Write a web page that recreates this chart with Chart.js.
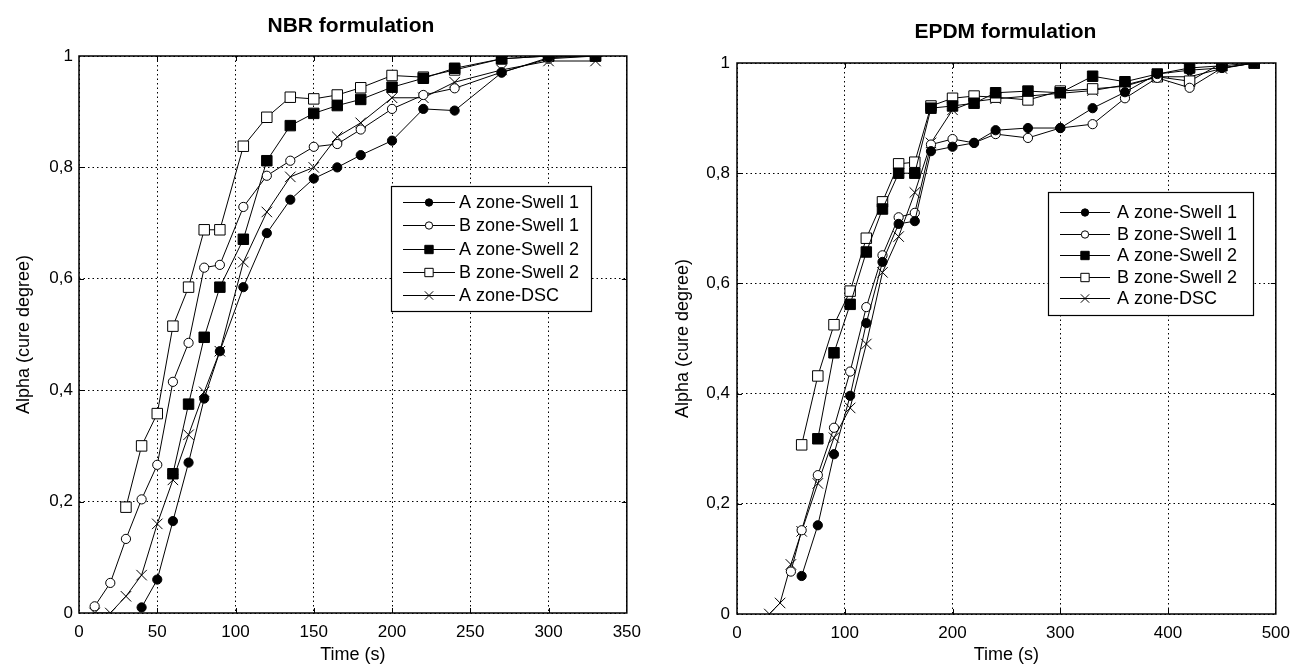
<!DOCTYPE html>
<html><head><meta charset="utf-8">
<script src="https://cdn.jsdelivr.net/npm/chart.js@4.4.0/dist/chart.umd.min.js"></script>
<style>
html,body{margin:0;padding:0;background:#fff;width:1299px;height:666px;overflow:hidden}
.box{position:absolute;top:0;height:666px}
#c1box{left:0;width:650px}
#c2box{left:650px;width:649px}
</style></head><body>
<div id="c1box" class="box"><canvas id="c1"></canvas></div>
<div id="c2box" class="box"><canvas id="c2"></canvas></div>
<script>
// ---------- NBR formulation ----------
const nbrA1x = [40,50,60,70,80,90,105,120,135,150,165,180,200,220,240,270,300,330];
const nbrA1y = [0.01,0.06,0.165,0.27,0.385,0.47,0.585,0.682,0.742,0.78,0.80,0.822,0.848,0.905,0.902,0.97,0.997,1.0];
const nbrB1x = [10,20,30,40,50,60,70,80,90,105,120,135,150,165,180,200,220,240,270,300,330];
const nbrB1y = [0.012,0.054,0.133,0.204,0.266,0.415,0.485,0.62,0.625,0.729,0.785,0.812,0.837,0.842,0.868,0.905,0.93,0.942,0.971,0.995,1.0];
const nbrA2x = [60,70,80,90,105,120,135,150,165,180,200,220,240,270,300,330];
const nbrA2y = [0.25,0.375,0.495,0.585,0.671,0.812,0.875,0.897,0.911,0.922,0.944,0.96,0.978,0.995,1.0,1.0];
const nbrB2x = [30,40,50,60,70,80,90,105,120,135,150,165,180,200,220,240,270,300,330];
const nbrB2y = [0.19,0.30,0.358,0.515,0.585,0.688,0.688,0.838,0.89,0.926,0.923,0.93,0.943,0.965,0.962,0.975,0.995,1.0,1.0];
const nbrDx = [10,20,30,40,50,60,70,80,90,105,120,135,150,165,180,200,220,240,270,300,330];
const nbrDy = [0,0,0.03,0.068,0.16,0.239,0.32,0.397,0.47,0.63,0.72,0.783,0.80,0.855,0.88,0.925,0.925,0.953,0.975,0.991,0.991];

// ---------- EPDM formulation ----------
const epA1x = [60,75,90,105,120,135,150,165,180,200,220,240,270,300,330,360,390,420,450,480];
const epA1y = [0.069,0.161,0.29,0.396,0.528,0.639,0.708,0.713,0.84,0.848,0.855,0.878,0.882,0.882,0.918,0.947,0.98,0.987,0.991,1.0];
const epB1x = [50,60,75,90,105,120,135,150,165,180,200,220,240,270,300,330,360,390,420,450,480];
const epB1y = [0.077,0.152,0.252,0.338,0.44,0.557,0.651,0.72,0.728,0.852,0.862,0.855,0.871,0.864,0.882,0.889,0.936,0.973,0.955,0.991,1.0];
const epA2x = [75,90,105,120,135,150,165,180,200,220,240,270,300,330,360,390,420,450,480];
const epA2y = [0.318,0.474,0.562,0.657,0.735,0.80,0.80,0.918,0.922,0.927,0.946,0.949,0.946,0.976,0.966,0.98,0.991,0.995,1.0];
const epB2x = [60,75,90,105,120,135,150,165,180,200,220,240,270,300,330,360,390,420,450,480];
const epB2y = [0.307,0.432,0.525,0.586,0.682,0.748,0.817,0.82,0.922,0.936,0.94,0.938,0.933,0.949,0.953,0.958,0.975,0.967,1.0,1.0];
const epDx = [30,40,50,60,75,90,105,120,135,150,165,180,200,220,240,270,300,330,360,390,420,450,480];
const epDy = [0,0.02,0.09,0.15,0.237,0.32,0.374,0.49,0.62,0.685,0.765,0.855,0.915,0.93,0.935,0.94,0.945,0.95,0.96,0.975,0.975,0.99,1.0];

const seriesLabels = ['A zone-Swell 1','B zone-Swell 1','A zone-Swell 2','B zone-Swell 2','A zone-DSC'];
const titles = ['NBR formulation','EPDM formulation'];
const xTitle = 'Time (s)';
const yTitle = 'Alpha (cure degree)';

Chart.defaults.font.family = '"Liberation Sans", Arial, sans-serif';
Chart.defaults.color = '#000';

const styles = [
  {pointStyle:'circle', pointRadius:4.6, pointBackgroundColor:'#000'},
  {pointStyle:'circle', pointRadius:4.6, pointBackgroundColor:'#fff'},
  {pointStyle:'rect', pointRadius:7.4, pointBackgroundColor:'#000'},
  {pointStyle:'rect', pointRadius:7.4, pointBackgroundColor:'#fff'},
  {pointStyle:'crossRot', pointRadius:7.4, pointBackgroundColor:'#fff'}
];

function zip(xs, ys){ return xs.map((x,i)=>({x:x, y:ys[i]})); }
function makeSets(pairs){
  return pairs.map((p,i)=>Object.assign({
    label: seriesLabels[i], data: zip(p[0],p[1]),
    borderColor:'#000', borderWidth:1, pointBorderColor:'#000', pointBorderWidth:1,
    pointHoverRadius:0, tension:0, fill:false
  }, styles[i]));
}

const framePlugin = {
  id:'frame',
  beforeDatasetsDraw(chart){
    const o = chart.options.plugins.frame; const a = chart.chartArea; const ctx = chart.ctx;
    ctx.save();
    ctx.strokeStyle='#000'; ctx.lineWidth=1;
    const tl = 5;
    const xs = chart.scales.x, ys = chart.scales.y;
    ctx.beginPath();
    xs.ticks.forEach(t=>{ const p = Math.round(xs.getPixelForValue(t.value))+0.5;
      if (p<=a.left+1||p>=a.right-1) return;
      ctx.moveTo(p,a.bottom); ctx.lineTo(p,a.bottom-tl); ctx.moveTo(p,a.top); ctx.lineTo(p,a.top+tl); });
    ys.ticks.forEach(t=>{ const p = Math.round(ys.getPixelForValue(t.value))+0.5;
      if (p<=a.top+1||p>=a.bottom-1) return;
      ctx.moveTo(a.left,p); ctx.lineTo(a.left+tl,p); ctx.moveTo(a.right,p); ctx.lineTo(a.right-tl,p); });
    ctx.stroke();
    ctx.lineWidth=1.5;
    ctx.strokeRect(a.left, a.top, a.right-a.left, a.bottom-a.top);
    ctx.fillStyle='#000';
    ctx.font='bold 21px "Liberation Sans", Arial, sans-serif';
    ctx.textAlign='center'; ctx.textBaseline='alphabetic';
    ctx.fillText(o.title, (a.left+a.right)/2 + o.titleDx, o.titleY);
    ctx.restore();
  },
  afterDatasetsDraw(chart){
    const o = chart.options.plugins.frame; const a = chart.chartArea; const ctx = chart.ctx;
    const L = o.legend;
    const bx = a.left + L.dx, by = a.top + L.dy;
    ctx.save();
    ctx.fillStyle='#fff'; ctx.fillRect(bx,by,L.w,L.h);
    ctx.strokeStyle='#000'; ctx.lineWidth=1.2; ctx.strokeRect(bx+0.5,by+0.5,L.w,L.h);
    ctx.font='18px "Liberation Sans", Arial, sans-serif';
    ctx.textAlign='left'; ctx.textBaseline='middle';
    chart.data.datasets.forEach((ds,i)=>{
      const yy = Math.round(by + L.row0 + i*L.rowH)+0.5;
      ctx.strokeStyle='#000'; ctx.lineWidth=1;
      ctx.beginPath(); ctx.moveTo(bx+L.l1,yy); ctx.lineTo(bx+L.l2,yy); ctx.stroke();
      ctx.fillStyle = ds.pointBackgroundColor;
      Chart.helpers.drawPoint(ctx, {pointStyle:ds.pointStyle, radius:ds.pointRadius*0.8, borderWidth:1, rotation:0}, bx+(L.l1+L.l2)/2, yy);
      ctx.fillStyle='#000';
      ctx.fillText(ds.label, bx+L.tx, yy+1);
    });
    ctx.restore();
  }
};

function makeChart(id, sets, xmax, xstep, cfg){
  return new Chart(document.getElementById(id), {
    type:'line',
    data:{datasets: sets},
    plugins:[framePlugin],
    options:{
      responsive:true, maintainAspectRatio:false, animation:false,
      layout:{padding:{left:0, right:cfg.padR, top:cfg.padT, bottom:0}},
      plugins:{legend:{display:false}, tooltip:{enabled:false},
        frame:{title:cfg.title, titleY:cfg.titleY, titleDx:cfg.titleDx, legend:cfg.legend}},
      scales:{
        x:{type:'linear', min:0, max:xmax,
          ticks:{stepSize:xstep, padding:cfg.xtPad, font:{size:17}, color:'#000', maxRotation:0},
          grid:{color:'#000', lineWidth:1, drawTicks:false},
          border:{display:false, dash:[1.5,3]},
          title:{display:true, text:xTitle, font:{size:18}, color:'#000', padding:{top:0,bottom:cfg.xTitlePad}},
          afterFit(s){ s.height = cfg.xh; }
        },
        y:{type:'linear', min:0, max:1,
          ticks:{stepSize:0.2, padding:cfg.ytPad, font:{size:17}, color:'#000',
            callback:v=>String(Math.round(v*10)/10).replace('.',',')},
          grid:{color:'#000', lineWidth:1, drawTicks:false},
          border:{display:false, dash:[1.5,3]},
          title:{display:true, text:yTitle, font:{size:18}, color:'#000', padding:{top:cfg.yTitlePad,bottom:0}},
          afterFit(s){ s.width = cfg.yw; }
        }
      }
    }
  });
}

makeChart('c1', makeSets([[nbrA1x,nbrA1y],[nbrB1x,nbrB1y],[nbrA2x,nbrA2y],[nbrB2x,nbrB2y],[nbrDx,nbrDy]]), 350, 50,
  {padR:18, padT:56, xh:53, yw:79, xtPad:9, ytPad:6, xTitlePad:0, yTitlePad:13,
   title:titles[0], titleY:32, titleDx:-2,
   legend:{dx:312, dy:130, w:200, h:125, row0:16, rowH:23.3, l1:12, l2:64, tx:68}});

makeChart('c2', makeSets([[epA1x,epA1y],[epB1x,epB1y],[epA2x,epA2y],[epB2x,epB2y],[epDx,epDy]]), 500, 100,
  {padR:14, padT:63, xh:52, yw:87, xtPad:9, ytPad:7, xTitlePad:0, yTitlePad:22,
   title:titles[1], titleY:38, titleDx:-1,
   legend:{dx:311, dy:129, w:205, h:123, row0:20, rowH:21.6, l1:12, l2:62, tx:69}});
</script>
</body></html>
